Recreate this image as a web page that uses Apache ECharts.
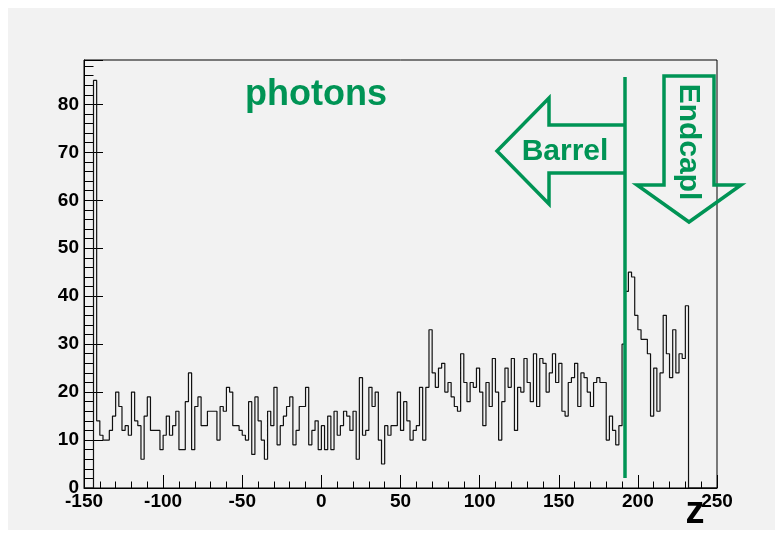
<!DOCTYPE html>
<html>
<head>
<meta charset="utf-8">
<script src="https://cdn.jsdelivr.net/npm/echarts@6/dist/echarts.min.js"></script>
<style>
  html, body { margin: 0; padding: 0; background: #ffffff; }
  #chart { width: 781px; height: 537px; }
</style>
</head>
<body>
<div id="chart"></div>
<script>
// Photon z distribution: 2-unit bins starting at z = -150
const binLow = -150;
const binWidth = 2;
const counts = [
  0, 0, 0, 85, 14, 11, 10, 10, 12, 15,      // -150 .. -132
  20, 17, 12, 13, 11, 20, 14, 13, 6, 15,    // -130 .. -112
  19, 12, 12, 12, 8, 11, 15, 11, 13, 16,    // -110 .. -92
  8, 8, 18, 24, 8, 17, 19, 13, 13, 16,      // -90 .. -72
  16, 16, 10, 17, 16, 21, 20, 13, 13, 12,   // -70 .. -52
  11, 10, 18, 7, 19, 14, 10, 6, 16, 13,     // -50 .. -32
  21, 9, 13, 15, 17, 19, 9, 12, 17, 17,     // -30 .. -12
  21, 9, 12, 14, 8, 13, 8, 15, 8, 16,       // -10 .. 8
  11, 13, 16, 15, 12, 16, 6, 23, 11, 12,    // 10 .. 28
  21, 17, 20, 10, 5, 13, 11, 13, 13, 20,    // 30 .. 48
  12, 18, 14, 10, 12, 13, 21, 10, 21, 33,   // 50 .. 68
  24, 21, 25, 26, 20, 22, 19, 17, 16, 28,   // 70 .. 88
  22, 18, 22, 21, 25, 20, 13, 22, 17, 27,   // 90 .. 108
  20, 10, 18, 25, 21, 27, 12, 21, 20, 27,   // 110 .. 128
  22, 18, 28, 17, 27, 26, 20, 24, 28, 22,   // 130 .. 148
  26, 16, 15, 22, 23, 26, 17, 24, 23, 20,   // 150 .. 168
  17, 22, 23, 22, 22, 10, 15, 12, 9, 13,    // 170 .. 188
  30, 41, 45, 44, 36, 33, 31, 31, 28, 15,   // 190 .. 208
  25, 16, 24, 36, 28, 23, 33, 24, 28, 27,   // 210 .. 228
  38, 0, 0, 0, 0, 0, 0, 0, 0, 0             // 230 .. 248
];

// Axis ranges and tick spacing
const xRange = [-150, 250];
const xMajor = 50;
const yRange = [0, 89.25];
const yMajor = 10;
const yMinor = 2;

// Annotation texts
const histTitle = 'photons';
const barrelLabel = 'Barrel';
const endcapLabel = 'Endcapl';
const xTitle = 'z';

// Step outline: left edge of every bin, plus the right edge of the last one
const outline = counts.map((c, i) => [binLow + i * binWidth, c]);
outline.push([binLow + counts.length * binWidth, counts[counts.length - 1]]);

const GREEN = '#009455';
const FONT = 'Liberation Sans, Arial, Helvetica, sans-serif';

const chart = echarts.init(document.getElementById('chart'), null, { renderer: 'canvas' });

const tickLabel = {
  color: '#000',
  fontFamily: FONT,
  fontWeight: 'bold',
  fontSize: 19
};

chart.setOption({
  animation: false,
  backgroundColor: '#f2f2f2',
  grid: {
    left: 84, right: 64, top: 60, bottom: 49,
    show: true, borderColor: '#000', borderWidth: 1,
    backgroundColor: 'transparent'
  },
  xAxis: {
    type: 'value',
    min: xRange[0], max: xRange[1], interval: xMajor,
    axisLine: { onZero: false, lineStyle: { color: '#000', width: 1 } },
    axisTick: { inside: true, length: 13, lineStyle: { color: '#000', width: 1 } },
    minorTick: { show: true, splitNumber: 5, length: 6.5, lineStyle: { color: '#000', width: 1 } },
    splitLine: { show: false },
    minorSplitLine: { show: false },
    axisLabel: Object.assign({ margin: 4 }, tickLabel)
  },
  yAxis: [
    {
      type: 'value',
      min: yRange[0], max: yRange[1], interval: yMajor,
      axisLine: { onZero: false, lineStyle: { color: '#000', width: 1 } },
      axisTick: { inside: true, length: 19, lineStyle: { color: '#000', width: 1 } },
      splitLine: { show: false },
      axisLabel: Object.assign({
        margin: 5,
        formatter: v => (v % yMajor === 0 ? String(v) : '')
      }, tickLabel)
    },
    {
      type: 'value',
      position: 'left',
      min: yRange[0], max: yRange[1], interval: yMinor,
      axisLine: { show: false, onZero: false },
      axisTick: { inside: true, length: 9.5, lineStyle: { color: '#000', width: 1 } },
      splitLine: { show: false },
      axisLabel: { show: false }
    }
  ],
  series: [
    {
      type: 'line',
      yAxisIndex: 0,
      data: outline,
      step: 'end',
      symbol: 'none',
      lineStyle: { color: '#111', width: 1.2 },
      z: 3
    }
  ],
  graphic: [
    // white margin around the canvas
    { type: 'rect', shape: { x: 0, y: 0, width: 781, height: 8 }, style: { fill: '#fff' }, silent: true },
    { type: 'rect', shape: { x: 0, y: 530, width: 781, height: 7 }, style: { fill: '#fff' }, silent: true },
    { type: 'rect', shape: { x: 0, y: 0, width: 8, height: 537 }, style: { fill: '#fff' }, silent: true },
    { type: 'rect', shape: { x: 775, y: 0, width: 6, height: 537 }, style: { fill: '#fff' }, silent: true },

    // axis title
    {
      type: 'text', x: 695, y: 513, z: 10,
      style: { text: xTitle, fill: '#000', font: 'bold 38px ' + FONT, textAlign: 'center', textVerticalAlign: 'middle' }
    },

    // histogram title
    {
      type: 'text', x: 316, y: 95, z: 10,
      style: { text: histTitle, fill: GREEN, font: 'bold 36px ' + FONT, textAlign: 'center', textVerticalAlign: 'middle' }
    },

    // barrel / endcap boundary
    {
      type: 'line', z: 10,
      shape: { x1: 625, y1: 77, x2: 625, y2: 478 },
      style: { stroke: GREEN, lineWidth: 3.5 }
    },

    // left-pointing arrow for the barrel region
    {
      type: 'polyline', z: 10,
      shape: { points: [[625, 125], [549, 125], [549, 98], [497, 151], [549, 204], [549, 173], [625, 173]] },
      style: { stroke: GREEN, lineWidth: 3.5, fill: null, lineJoin: 'miter' }
    },
    {
      type: 'text', x: 565, y: 152, z: 10,
      style: { text: barrelLabel, fill: GREEN, font: 'bold 30px ' + FONT, textAlign: 'center', textVerticalAlign: 'middle' }
    },

    // downward arrow for the endcap region
    {
      type: 'polygon', z: 10,
      shape: { points: [[664, 76], [714, 76], [714, 185], [741, 185], [689, 222], [637, 185], [664, 185]] },
      style: { stroke: GREEN, lineWidth: 3.5, fill: null, lineJoin: 'miter' }
    },
    {
      type: 'text', x: 688, y: 142, z: 10, rotation: -Math.PI / 2,
      style: { text: endcapLabel, fill: GREEN, font: 'bold 30px ' + FONT, textAlign: 'center', textVerticalAlign: 'middle' }
    }
  ]
});
</script>
</body>
</html>
